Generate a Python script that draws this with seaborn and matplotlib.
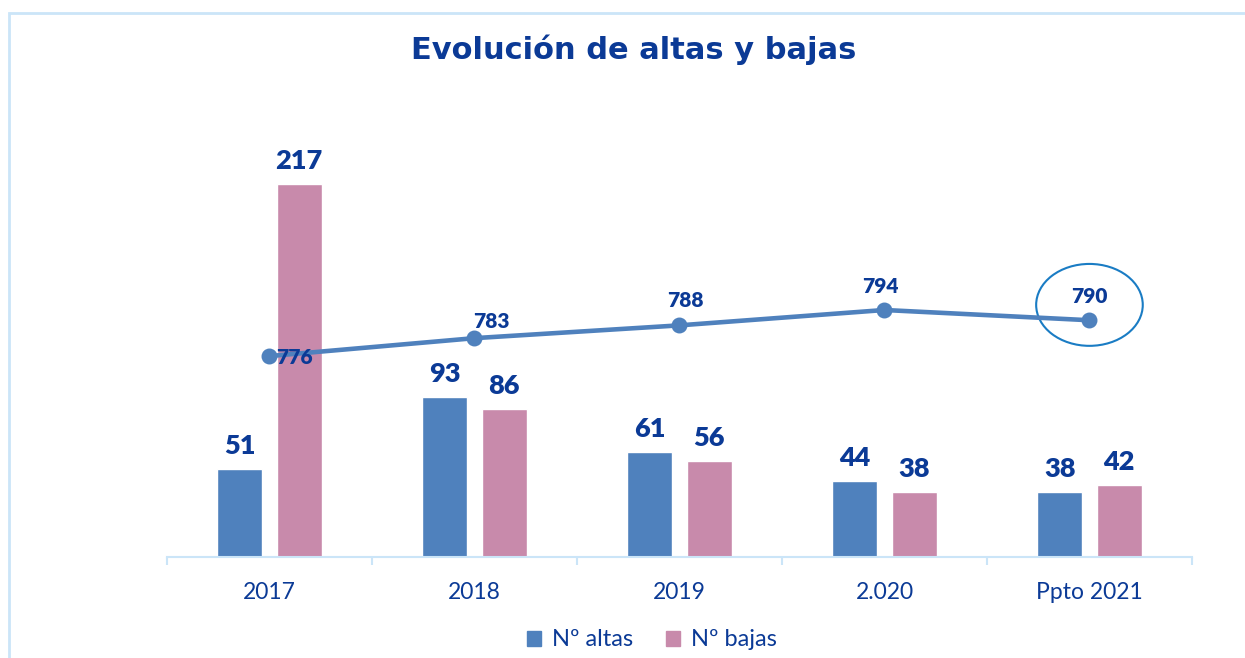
import pandas as pd
import matplotlib
matplotlib.use("Agg")
import matplotlib.pyplot as plt
from matplotlib.patches import Ellipse, Rectangle, Patch
import seaborn as sns

# Datos del gráfico
periodos = ["2017", "2018", "2019", "2.020", "Ppto 2021"]
altas = [51, 93, 61, 44, 38]
bajas = [217, 86, 56, 38, 42]
plantilla = [776, 783, 788, 794, 790]

# desplazamiento de las etiquetas de la línea (píxeles)
offsets_linea = [(25, -1), (17, 17), (6, 25), (-4, 24), (0, 24)]

azul = "#4F81BD"
rosa = "#C88AAB"
texto = "#0B3A96"
borde = "#CBE5F8"

sns.set_theme(style="white")
plt.rcParams["font.family"] = ["Lato", "DejaVu Sans"]

df = pd.DataFrame({
    "periodo": periodos * 2,
    "valor": altas + bajas,
    "serie": ["Nº altas"] * len(periodos) + ["Nº bajas"] * len(periodos),
})

fig = plt.figure(figsize=(12.45, 6.58), dpi=100)
ax = fig.add_axes([0.1341, 0.1535, 0.8233, 0.6535])

# Barras de altas y bajas
sns.barplot(data=df, x="periodo", y="valor", hue="serie", palette=[azul, rosa],
            width=0.58, gap=0.24, ax=ax, legend=False, saturation=1)
for cont in ax.containers:
    ax.bar_label(cont, padding=8, fontsize=19.5, fontweight="heavy", color=texto)

ax.set_ylim(0, 250)
ax.set_xlabel("")
ax.set_ylabel("")
ax.set_yticks([])
for s in ["top", "left", "right"]:
    ax.spines[s].set_visible(False)
ax.spines["bottom"].set_color(borde)
ax.spines["bottom"].set_linewidth(1.5)

# Línea de plantilla en eje secundario
ax2 = ax.twinx()
sns.pointplot(x=periodos, y=plantilla, ax=ax2, color=azul, markersize=9,
              linewidth=3.3)
ax2.set_ylim(697.5, 865.5)
ax2.set_yticks([])
ax2.set_ylabel("")
for s in ax2.spines.values():
    s.set_visible(False)
for i, (v, (dx, dy)) in enumerate(zip(plantilla, offsets_linea)):
    ax2.annotate(str(v), (i, v), xytext=(dx, dy), textcoords="offset pixels",
                 ha="center", va="center", fontsize=15, fontweight="heavy",
                 color=texto)
ax2.add_patch(Ellipse((len(periodos) - 1, 796), 0.52, 32, fill=False,
                      edgecolor="#1A7CC4", linewidth=1.5, clip_on=False))

ax.set_xlim(-0.5, len(periodos) - 0.5)
ax.set_xticks([i + 0.5 for i in range(-1, len(periodos))], minor=True)
ax.tick_params(axis="x", which="major", length=0, pad=18, labelsize=16.5,
               labelcolor=texto)
ax.tick_params(axis="x", which="minor", length=6, width=1.5, color=borde,
               direction="out", bottom=True)

# Título, leyenda y marco
fig.text(634 / 1245, 1 - 50 / 658, "Evolución de altas y bajas", ha="center",
         va="center", fontsize=22, fontweight="bold", color=texto,
         family="DejaVu Sans")
fig.legend(handles=[Patch(color=azul, label="Nº altas"),
                    Patch(color=rosa, label="Nº bajas")],
           loc="center", bbox_to_anchor=(652 / 1245, 1 - 640 / 658), ncol=2,
           frameon=False, fontsize=17, handlelength=0.6, handleheight=0.6,
           handletextpad=0.45, columnspacing=1.4, labelcolor=texto)
fig.add_artist(Rectangle((9 / 1245, -0.1), 1.5, 1 - 13 / 658 + 0.1,
                         transform=fig.transFigure, fill=False,
                         edgecolor=borde, linewidth=2))

fig.savefig("out.png", dpi=100)
